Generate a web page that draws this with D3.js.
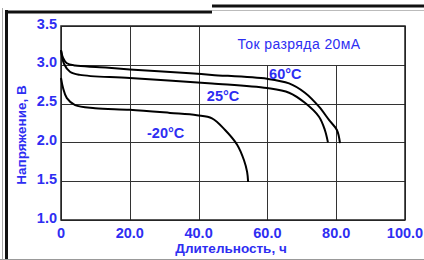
<!DOCTYPE html>
<html>
<head>
<meta charset="utf-8">
<script src="https://cdn.jsdelivr.net/npm/d3@7"></script>
<style>
  body { margin: 0; background: #fff; }
  svg text { font-family: "Liberation Sans", Arial, sans-serif; fill: #2e2ef2; font-weight: bold; }
</style>
</head>
<body>
<div id="chart"></div>
<script>
// chart values
var xTicks = [0, 20, 40, 60, 80, 100];
var xTickLabels = ["0", "20.0", "40.0", "60.0", "80.0", "100.0"];
var yTicks = [1.0, 1.5, 2.0, 2.5, 3.0, 3.5];
var yTickLabels = ["1.0", "1.5", "2.0", "2.5", "3.0", "3.5"];

var seriesNames = ["60°C", "25°C", "-20°C"];
// hours
var t60 = [0, 0.6, 1.7, 4.1, 11.3, 20, 37.5, 43.9, 59.9, 66.3, 70.9, 75, 77.9, 80.2, 81.1];
var v60 = [3.19, 3.09, 3.02, 2.99, 2.97, 2.94, 2.89, 2.87, 2.82, 2.76, 2.64, 2.46, 2.29, 2.16, 1.99];
var t25 = [0, 0.9, 2.6, 5.5, 20, 43.9, 59.9, 66.3, 70.9, 75, 76.7, 77.6];
var v25 = [3.19, 3.01, 2.91, 2.87, 2.83, 2.76, 2.70, 2.64, 2.51, 2.33, 2.16, 2.0];
var tm20 = [0, 0.6, 1.7, 4.1, 9.9, 20, 31.7, 39.5, 43.9, 47.7, 51.2, 53.2, 54.1, 54.4];
var vm20 = [2.83, 2.70, 2.57, 2.48, 2.44, 2.42, 2.38, 2.35, 2.31, 2.16, 1.97, 1.77, 1.62, 1.49];

var legendTitle = "Ток разряда 20мА";
var xTitle = "Длительность, ч";
var yTitle = "Напряжение, В";

var W = 424, H = 260;
var svg = d3.select("#chart").append("svg")
    .attr("width", W)
    .attr("height", H);

// outer frame
svg.append("line").attr("x1", 2.5).attr("x2", 2.5).attr("y1", 8).attr("y2", 260)
    .attr("stroke", "#aaa").attr("stroke-width", 1);
svg.append("line").attr("x1", 0).attr("x2", 424).attr("y1", 259.5).attr("y2", 259.5)
    .attr("stroke", "#999").attr("stroke-width", 1);
svg.append("line").attr("x1", 6.5).attr("x2", 6.5).attr("y1", 10).attr("y2", 259)
    .attr("stroke", "#111").attr("stroke-width", 3);
svg.append("line").attr("x1", 5).attr("x2", 212).attr("y1", 12).attr("y2", 12)
    .attr("stroke", "#111").attr("stroke-width", 3);
svg.append("line").attr("x1", 212).attr("x2", 424).attr("y1", 6).attr("y2", 6)
    .attr("stroke", "#111").attr("stroke-width", 3);
svg.append("line").attr("x1", 212).attr("x2", 424).attr("y1", 10.5).attr("y2", 10.5)
    .attr("stroke", "#bbb").attr("stroke-width", 1);

var x = d3.scaleLinear().domain([0, 100]).range([61, 405]);
var y = d3.scaleLinear().domain([1.0, 3.5]).range([220, 26]);

var g = svg.append("g");

// grid
g.selectAll("line.vg")
  .data(xTicks)
  .enter()
    .append("line")
    .attr("class", "vg")
    .attr("x1", function(d) { return Math.round(x(d)) + 0.5; })
    .attr("x2", function(d) { return Math.round(x(d)) + 0.5; })
    .attr("y1", y(3.5))
    .attr("y2", y(1.0))
    .attr("stroke", "#333")
    .attr("stroke-width", 1);

g.selectAll("line.hg")
  .data(yTicks)
  .enter()
    .append("line")
    .attr("class", "hg")
    .attr("x1", x(0))
    .attr("x2", x(100))
    .attr("y1", function(d) { return Math.round(y(d)) + 0.5; })
    .attr("y2", function(d) { return Math.round(y(d)) + 0.5; })
    .attr("stroke", "#333")
    .attr("stroke-width", 1);

// legend box sits in the top right cell block
g.append("rect")
    .attr("x", Math.round(x(40)) + 0.5)
    .attr("y", Math.round(y(3.5)) + 0.5)
    .attr("width", Math.round(x(100)) - Math.round(x(40)))
    .attr("height", Math.round(y(3.0)) - Math.round(y(3.5)))
    .attr("fill", "#fff")
    .attr("stroke", "#333")
    .attr("stroke-width", 1);

g.append("text")
    .attr("x", 299)
    .attr("y", 49)
    .attr("text-anchor", "middle")
    .style("font-size", "14px")
    .style("font-weight", "normal")
    .style("letter-spacing", "0.4px")
    .text(legendTitle);

// plot border
g.append("rect")
    .attr("x", x(0))
    .attr("y", y(3.5))
    .attr("width", x(100) - x(0))
    .attr("height", y(1.0) - y(3.5))
    .attr("fill", "none")
    .attr("stroke", "#222")
    .attr("stroke-width", 1.5);

// tick labels
g.selectAll("text.xt")
  .data(xTicks)
  .enter()
    .append("text")
    .attr("class", "xt")
    .attr("x", function(d) { return x(d); })
    .attr("y", 238)
    .attr("text-anchor", "middle")
    .style("font-size", "14.5px")
    .text(function(d, i) { return xTickLabels[i]; });

g.selectAll("text.yt")
  .data(yTicks)
  .enter()
    .append("text")
    .attr("class", "yt")
    .attr("x", 57)
    .attr("y", function(d) { return y(d) + 2.5; })
    .attr("text-anchor", "end")
    .style("font-size", "14.5px")
    .text(function(d, i) { return yTickLabels[i]; });

// axis titles
g.append("text")
    .attr("x", 231)
    .attr("y", 253)
    .attr("text-anchor", "middle")
    .style("font-size", "13.5px")
    .text(xTitle);

g.append("text")
    .attr("transform", "translate(26,135) rotate(-90)")
    .attr("text-anchor", "middle")
    .style("font-size", "13.5px")
    .text(yTitle);

// curves
var line = d3.line()
    .x(function(d) { return x(d[0]); })
    .y(function(d) { return y(d[1]); })
    .curve(d3.curveCatmullRom.alpha(0.5));

var curves = [
  d3.zip(t60, v60),
  d3.zip(t25, v25),
  d3.zip(tm20, vm20)
];

g.selectAll("path.curve")
  .data(curves)
  .enter()
    .append("path")
    .attr("class", "curve")
    .attr("d", line)
    .attr("fill", "none")
    .attr("stroke", "#000")
    .attr("stroke-width", 2);

// curve labels
var labelPos = [[60.5, 2.82], [42.4, 2.53], [25.0, 2.06]];
g.selectAll("text.cl")
  .data(seriesNames)
  .enter()
    .append("text")
    .attr("class", "cl")
    .attr("x", function(d, i) { return x(labelPos[i][0]); })
    .attr("y", function(d, i) { return y(labelPos[i][1]); })
    .style("font-size", "14.5px")
    .text(function(d) { return d; });
</script>
</body>
</html>
